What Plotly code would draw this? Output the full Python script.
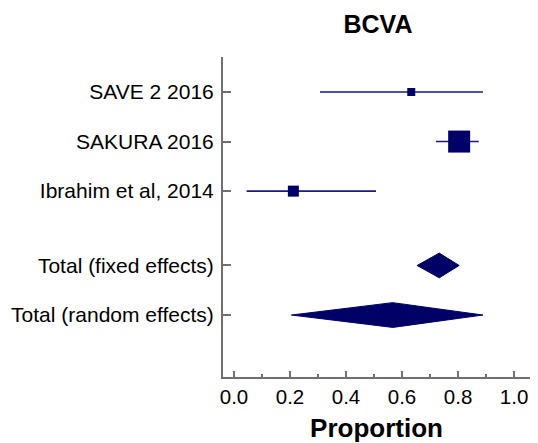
import plotly.graph_objects as go

studies = ["SAVE 2 2016", "SAKURA 2016", "Ibrahim et al, 2014"]
study_est = [0.633, 0.804, 0.212]
study_lo = [0.307, 0.721, 0.045]
study_hi = [0.889, 0.874, 0.507]
study_size = [8, 22, 11]
study_pos = [0, 1, 2]

totals = ["Total (fixed effects)", "Total (random effects)"]
total_est = [0.733, 0.567]
total_lo = [0.654, 0.205]
total_hi = [0.804, 0.889]
total_pos = [3.5, 4.5]

NAVY = "#000066"
LINE = "#1a1a85"
AX = "#707070"
FONT = "Liberation Sans, Arial, sans-serif"

# page body has an 8px default margin; the visible page area is 522 px wide
W, H = 522, 435

fig = go.Figure()

for i in range(len(studies)):
    fig.add_trace(go.Scatter(
        x=[study_lo[i], study_hi[i]], y=[study_pos[i], study_pos[i]],
        mode="lines", line=dict(color=LINE, width=1.6), showlegend=False, hoverinfo="skip"))
fig.add_trace(go.Scatter(
    x=study_est, y=study_pos, mode="markers",
    marker=dict(symbol="square", size=study_size, color=NAVY, opacity=1, line=dict(width=0)),
    showlegend=False))

h = 0.25
for i in range(len(totals)):
    y = total_pos[i]
    fig.add_trace(go.Scatter(
        x=[total_lo[i], total_est[i], total_hi[i], total_est[i], total_lo[i]],
        y=[y, y - h, y, y + h, y],
        mode="lines", fill="toself", fillcolor=NAVY,
        line=dict(color=NAVY, width=1), showlegend=False))

fig.update_layout(
    width=W, height=H,
    margin=dict(l=215, r=0, t=49, b=66, autoexpand=False),
    plot_bgcolor="white", paper_bgcolor="white",
    font=dict(family=FONT, size=21, color="black"),
    title=dict(text="<b>BCVA</b>", x=370/W, xanchor="center", xref="container",
               y=1 - 16/H, yanchor="middle", yref="container",
               font=dict(size=25, family=FONT, color="black")),
    xaxis=dict(
        range=[-0.0393, 1.057], tickvals=[0, 0.2, 0.4, 0.6, 0.8, 1.0],
        ticktext=["0.0", "0.2", "0.4", "0.6", "0.8", "1.0"],
        automargin=False, ticklabeloverflow="allow",
        showgrid=False, zeroline=False, showline=True, linecolor=AX, linewidth=2,
        ticks="inside", ticklen=6, tickcolor=AX, tickwidth=1.5,
        minor=dict(tickvals=[0.1, 0.3, 0.5, 0.7, 0.9], ticks="inside", ticklen=3,
                   tickcolor=AX, tickwidth=1.5, showgrid=False),
        tickfont=dict(size=20.5, family=FONT, color="black"),
        title=dict(text="<b>Proportion</b>", font=dict(size=26, family=FONT, color="black"),
                   standoff=12),
    ),
    yaxis=dict(
        range=[5.75, -0.706], tickvals=study_pos + total_pos, ticktext=studies + totals,
        automargin=False, ticklabelstandoff=3,
        showgrid=False, zeroline=False, showline=True, linecolor=AX, linewidth=2,
        ticks="inside", ticklen=8, tickcolor=AX, tickwidth=1.5,
        tickfont=dict(size=21, family=FONT, color="black"),
    ),
)

fig.write_html("out.html")
